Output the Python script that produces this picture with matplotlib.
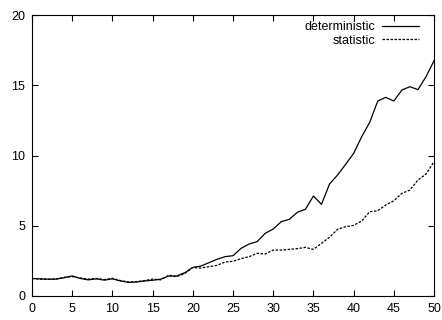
import matplotlib
matplotlib.use("Agg")
import matplotlib.pyplot as plt
import numpy as np

plt.rcParams['font.family'] = ['Liberation Sans', 'DejaVu Sans']

x = np.arange(0, 51)
deterministic = [1.25, 1.22, 1.2, 1.2, 1.3, 1.43, 1.25, 1.15, 1.22, 1.13, 1.22,
                 1.07, 0.97, 1.0, 1.07, 1.12, 1.2, 1.42, 1.42, 1.66, 2.04,
                 2.13, 2.37, 2.61, 2.8, 2.87, 3.39, 3.7, 3.87, 4.46, 4.77,
                 5.29, 5.46, 5.96, 6.17, 7.12, 6.52, 7.97, 8.61, 9.37, 10.15,
                 11.34, 12.36, 13.88, 14.14, 13.88, 14.66, 14.9, 14.69, 15.61, 16.75]
statistic = [1.24, 1.2, 1.18, 1.22, 1.33, 1.38, 1.28, 1.2, 1.25, 1.17, 1.26,
             1.1, 1.0, 1.02, 1.1, 1.2, 1.15, 1.48, 1.38, 1.6, 2.02,
             1.99, 2.09, 2.18, 2.42, 2.47, 2.66, 2.8, 3.04, 2.99, 3.27,
             3.27, 3.32, 3.37, 3.46, 3.32, 3.75, 4.18, 4.75, 4.93, 5.03,
             5.34, 6.0, 6.07, 6.48, 6.78, 7.31, 7.54, 8.26, 8.68, 9.56]

fig = plt.figure(figsize=(4.42, 3.2), dpi=100)
ax = fig.add_axes([0.0724, 0.075, 0.9096, 0.878])

ax.plot(x, deterministic, color='black', lw=0.9, label='deterministic')
ax.plot(x, statistic, color='black', lw=0.9, dashes=(2, 1.2), label='statistic')

ax.set_xlim(0, 50)
ax.set_ylim(0, 20)
ax.set_xticks(range(0, 51, 5))
ax.set_yticks(range(0, 21, 5))
ax.tick_params(direction='in', length=4, width=0.8, labelsize=9,
               top=True, right=True, pad=5)
for s in ax.spines.values():
    s.set_linewidth(0.8)

ax.legend(loc='upper right', bbox_to_anchor=(0.977, 1.0), frameon=False,
          markerfirst=False, fontsize=9, handlelength=2.9, handletextpad=0.6,
          labelspacing=0.1, borderaxespad=0.3, borderpad=0.2)

fig.savefig('out.png', dpi=100)
